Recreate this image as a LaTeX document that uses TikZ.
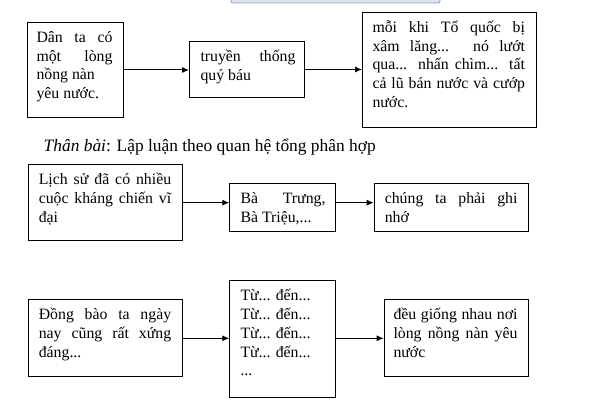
\documentclass[tikz,border=0pt]{standalone}
\usepackage{fontspec}
\setmainfont{Liberation Serif}
\usetikzlibrary{arrows.meta}
\newcommand\jl[1]{\makebox[\linewidth][s]{#1}\par}
% #1 box width, #2 box height, #3 left pad, #4 text width, #5 body
\newcommand\tbody[5]{\hspace*{#3}\begin{minipage}[t][#2][t]{#4}\fontsize{15.8}{18.8}\selectfont\vspace*{3.5pt}\rule{0pt}{16.3pt}#5\end{minipage}\hspace*{\dimexpr#1-#3-#4\relax}}
\definecolor{barfill}{HTML}{DCE3EE}
\definecolor{barline}{HTML}{8F9FB8}
\tikzset{
  box/.style={draw, line width=1pt, anchor=north west, inner sep=0pt},
  arr/.style={line width=1pt, -{Latex[length=7pt,width=6pt]}},
  heading/.style={anchor=base west, inner sep=0pt, font=\fontsize{17.4}{20}\selectfont}
}
\begin{document}
\begin{tikzpicture}[x=1pt,y=-1pt]
\useasboundingbox (0,0) rectangle (592,401);
\fill[white] (0,0) rectangle (592,401);
\begin{scope}
\clip (0,0) rectangle (592,401);
\draw[barline, fill=barfill, line width=0.8pt, rounded corners=2pt] (231,-6) rectangle (440,3);
\end{scope}
% row 1
\node[box] (b1) at (27,22) {\tbody{96pt}{95pt}{9pt}{76pt}{\jl{Dân ta có}\jl{một lòng}nồng nàn\par yêu nước.\par}};
\node[box] (b2) at (189,41) {\tbody{115pt}{56pt}{11pt}{95pt}{\jl{truyền thống}quý báu\par}};
\node[box] (b3) at (362,12) {\tbody{174pt}{115pt}{10pt}{152.5pt}{\jl{mỗi khi Tổ quốc bị}\jl{xâm lăng... nó lướt}\jl{qua... nhấn chìm... tất}\jl{cả lũ bán nước và cướp}nước.\par}};
\draw[arr] (b1.east) -- (b1.east -| b2.west);
\draw[arr] (b2.east) -- (b2.east -| b3.west);
% heading
\node[heading] (head) at (43.5,152) {\textit{Thân bài}: Lập luận theo quan hệ tổng phân hợp};
% row 2
\node[box] (b4) at (28.3,164.3) {\tbody{153.4pt}{75.7pt}{10pt}{132.4pt}{\jl{Lịch sử đã có nhiều}\jl{cuộc kháng chiến vĩ}đại\par}};
\node[box] (b5) at (229.3,183.3) {\tbody{106pt}{47.7pt}{10.7pt}{85pt}{\jl{Bà Trưng,}Bà Triệu,...\par}};
\node[box] (b6) at (373.7,183.3) {\tbody{154pt}{47.7pt}{10.6pt}{132.7pt}{\jl{chúng ta phải ghi}nhớ\par}};
\draw[arr] (b4.east) -- (b4.east -| b5.west);
\draw[arr] (b5.east |- b4.east) -- (b6.west |- b4.east);
% row 3
\node[box] (b7) at (28.3,299.3) {\tbody{153.4pt}{77pt}{10pt}{132.4pt}{\jl{Đồng bào ta ngày}\jl{nay cũng rất xứng}đáng...\par}};
\node[box] (b8) at (229.3,280.3) {\tbody{106pt}{116.4pt}{10.7pt}{85pt}{Từ... đến...\par Từ... đến...\par Từ... đến...\par Từ... đến...\par ...\par}};
\node[box] (b9) at (383.7,299.3) {\tbody{144pt}{77pt}{9.3pt}{124pt}{\jl{đều giống nhau nơi}\jl{lòng nồng nàn yêu}nước\par}};
\draw[arr] (b7.east) -- (b7.east -| b8.west);
\draw[arr] (b8.east |- b7.east) -- (b9.west |- b7.east);
\end{tikzpicture}
\end{document}
